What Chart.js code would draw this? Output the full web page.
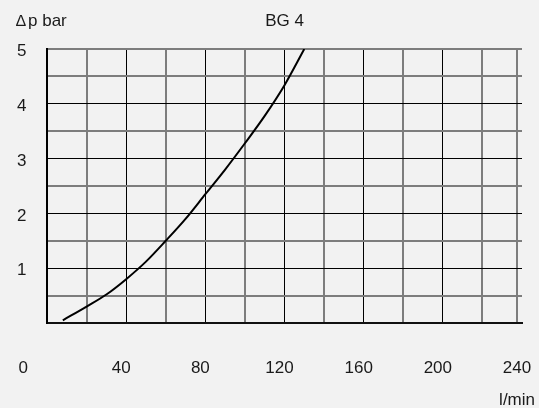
<!DOCTYPE html>
<html><head><meta charset="utf-8">
<script src="https://cdn.jsdelivr.net/npm/chart.js@4.4.1/dist/chart.umd.min.js"></script>
<style>
html,body{margin:0;padding:0;background:#f2f2f2;}
#wrap{width:539px;height:408px;position:relative;}
canvas{display:block;}
</style></head><body>
<div id="wrap"><canvas id="c" width="539" height="408"></canvas></div>
<script>
// Data (flow l/min vs pressure drop bar)
const flowRates     = [8, 20, 30, 40, 50, 60, 70, 80, 90, 100, 110, 120, 130];
const pressureDrops = [0.05, 0.30, 0.52, 0.80, 1.12, 1.50, 1.90, 2.35, 2.80, 3.28, 3.78, 4.34, 5.00];

const xGridValues  = [0, 20, 40, 60, 80, 100, 120, 140, 160, 180, 200, 220, 237.5];
const xLabelValues = [0, 40, 80, 120, 160, 200, 240];
const xTickLabels  = ['0', '40', '80', '120', '160', '200', '240'];
const yLabelValues = [1, 2, 3, 4, 5];
const yTickLabels  = ['1', '2', '3', '4', '5'];

const chartTitle = 'BG 4';
const yAxisTitle = 'p bar';
const yAxisSymbol = '\u2206';
const xAxisTitle = 'l/min';

const FONT = '"Liberation Sans", Arial, Helvetica, sans-serif';
const TEXT = '#1a1a1a';

const freeText = {
  id: 'freeText',
  afterDraw(chart) {
    const ctx = chart.ctx, a = chart.chartArea;
    ctx.save();
    ctx.fillStyle = TEXT;
    ctx.textBaseline = 'alphabetic';
    ctx.font = '16px ' + FONT;
    ctx.textAlign = 'left';
    ctx.fillText(yAxisSymbol, 16, 25.5);
    ctx.font = '17px ' + FONT;
    ctx.fillText(yAxisTitle, 28, 25.5);
    ctx.textAlign = 'center';
    ctx.fillText(chartTitle, (a.left + a.right) / 2, 25.5);
    ctx.textAlign = 'right';
    ctx.fillText(xAxisTitle, 535, 405);
    ctx.restore();
  }
};

new Chart(document.getElementById('c'), {
  type: 'line',
  data: {
    datasets: [{
      data: flowRates.map((x, i) => ({ x: x, y: pressureDrops[i] })),
      borderColor: '#000',
      borderWidth: 2,
      pointRadius: 0,
      fill: false,
      cubicInterpolationMode: 'monotone'
    }]
  },
  options: {
    responsive: false,
    animation: false,
    devicePixelRatio: 1,
    layout: { padding: { left: 17, right: 17, top: 49, bottom: 29 } },
    plugins: { legend: { display: false }, tooltip: { enabled: false }, title: { display: false } },
    scales: {
      x: {
        type: 'linear',
        min: 0, max: 240,
        afterBuildTicks(scale) {
          const vals = xGridValues.concat([240]);
          scale.ticks = vals.map(v => ({ value: v }));
        },
        afterFit(scale) {
          scale.height = 56;
          scale.paddingLeft = 0;
          scale.paddingRight = 0;
        },
        ticks: {
          autoSkip: false,
          maxRotation: 0,
          minRotation: 0,
          padding: 35,
          labelOffset: -5,
          color: TEXT,
          font: { family: FONT, size: 17 },
          callback(value) {
            const i = xLabelValues.indexOf(value);
            if (i < 0) return '';
            return value === 0 ? xTickLabels[i] + '        ' : xTickLabels[i];
          }
        },
        grid: {
          drawTicks: false,
          color(ctx) {
            const v = ctx.tick ? ctx.tick.value : 0;
            if (v === 240 || v === 0) return 'rgba(0,0,0,0)';
            return (v % 40 === 0) ? '#000' : '#7d7d7d';
          },
          lineWidth(ctx) {
            const v = ctx.tick ? ctx.tick.value : 0;
            return (v % 40 === 0) ? 1 : 2;
          }
        },
        border: { display: true, color: '#111', width: 2 }
      },
      y: {
        type: 'linear',
        min: 0, max: 5,
        afterFit(scale) {
          scale.width = 30;
          scale.paddingTop = 0;
          scale.paddingBottom = 0;
        },
        ticks: {
          stepSize: 0.5,
          padding: 20.5,
          labelOffset: 2.5,
          color: TEXT,
          font: { family: FONT, size: 17 },
          callback(value) {
            const i = yLabelValues.indexOf(value);
            return i < 0 ? '' : yTickLabels[i];
          }
        },
        grid: {
          drawTicks: false,
          color(ctx) {
            const v = ctx.tick ? ctx.tick.value : 0;
            if (v === 0) return 'rgba(0,0,0,0)';
            return (Number.isInteger(v) && v !== 5) ? '#000' : '#7d7d7d';
          },
          lineWidth(ctx) {
            const v = ctx.tick ? ctx.tick.value : 0;
            return (Number.isInteger(v) && v !== 5) ? 1 : 2;
          }
        },
        border: { display: true, color: '#000', width: 2 }
      }
    }
  },
  plugins: [freeText]
});
</script>
</body></html>
